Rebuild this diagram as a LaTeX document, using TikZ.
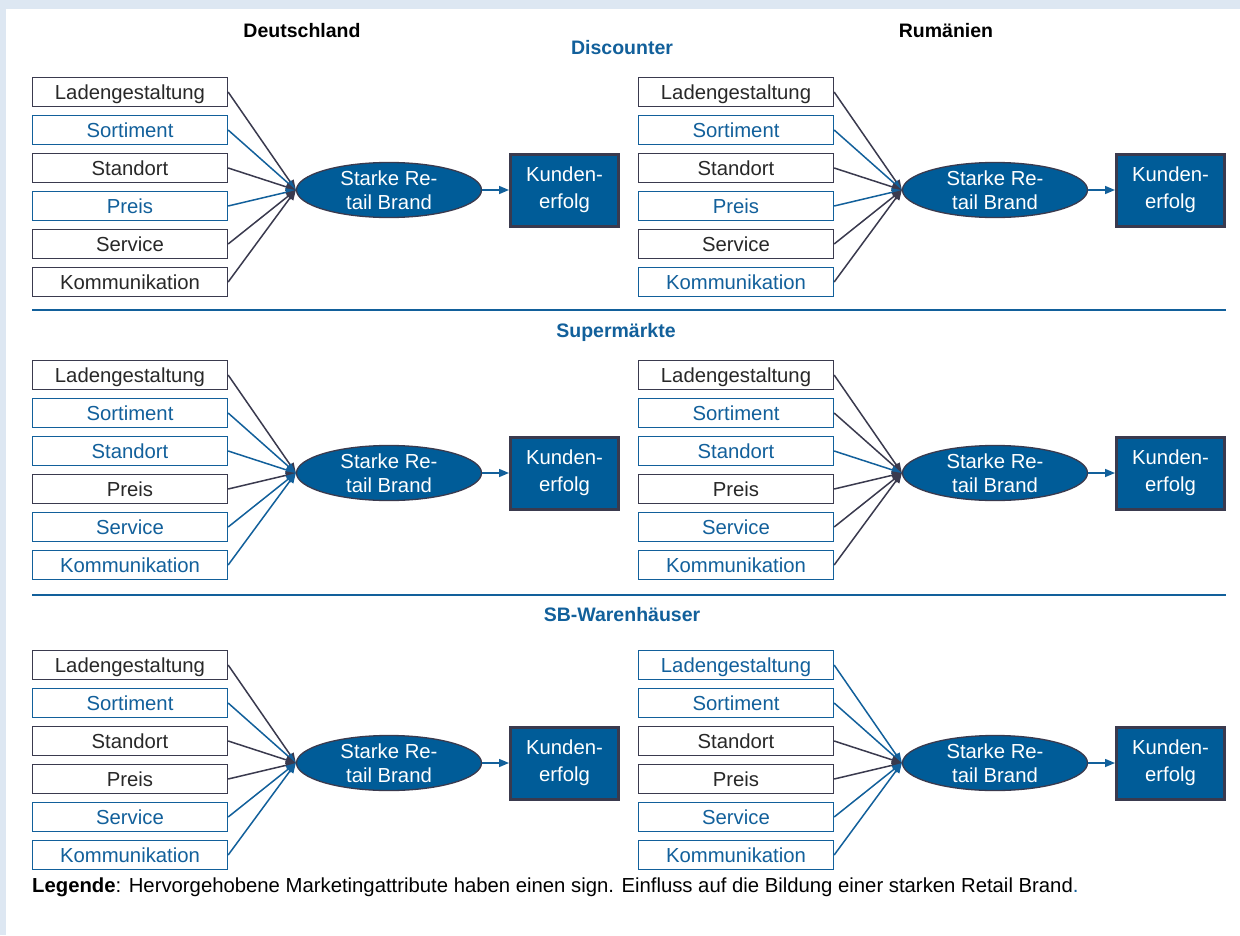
\documentclass[tikz,border=0pt]{standalone}
\usepackage{fontspec}
\setmainfont{Liberation Sans}
\usetikzlibrary{arrows.meta,shapes.geometric}
\definecolor{bl}{RGB}{18,96,155}
\definecolor{dk}{RGB}{58,58,78}
\definecolor{bg}{RGB}{221,231,242}
\definecolor{ef}{RGB}{0,92,152}
\definecolor{tx}{RGB}{40,40,40}
\newcommand\mypanel[4]{%
  \node[brand] (#1E) at (389+#2, #3+98) {Starke Re-\\tail Brand};
  \node[kunde] (#1K) at (564.5+#2, #3+98) {Kunden-\\erfolg};
  \draw[hl] (#1E) -- (#1K);
  \foreach \t/\bs/\ls [count=\i] in {#4}{
    \node[\bs] (#1\i) at (130+#2, #3+38*\i-38) {\t};
    \draw[\ls] (#1\i.east) -- (#1E.west);
  }%
}
\begin{document}
\begin{tikzpicture}[x=1pt,y=-1pt,
  attr/.style={draw, line width=1.3pt, minimum width=195pt, minimum height=29.5pt,
    inner sep=0pt, text height=17pt, text depth=2pt, fill=white, font=\fontsize{20.3}{24}\selectfont},
  hi/.style={attr, draw=bl, text=bl},
  lo/.style={attr, draw=dk, text=tx},
  brand/.style={ellipse, draw=dk, line width=1.3pt, fill=ef, text=white,
    minimum width=185pt, minimum height=55pt, inner sep=0pt, align=center,
    font=\fontsize{20.3}{24}\selectfont},
  kunde/.style={draw=dk, line width=3pt, fill=ef, text=white,
    minimum width=108pt, minimum height=72pt, inner sep=0pt, align=center,
    font=\fontsize{20.3}{27}\selectfont},
  hl/.style={draw=bl, line width=1.5pt, -{Triangle[length=10pt,width=8pt]}},
  ll/.style={draw=dk, line width=1.5pt, -{Triangle[length=10pt,width=8pt]}},
  head/.style={font=\bfseries\fontsize{19.5}{22}\selectfont},
  sep/.style={draw=bl, line width=1.5pt}
]
\useasboundingbox (0,0) rectangle (1240,935);
\fill[bg] (0,0) rectangle (1240,935);
\fill[white] (6,9) rectangle (1240,935);

\node[head, text=black] (hde) at (302,31) {Deutschland};
\node[head, text=black] (hro) at (946,31) {Rumänien};
\node[head, text=bl] (hdisc) at (622,48) {Discounter};
\node[head, text=bl] (hsup) at (616,332) {Supermärkte};
\node[head, text=bl] (hsb) at (622,615) {SB-Warenhäuser};

\coordinate (s1a) at (32,310); \coordinate (s1b) at (1226,310);
\coordinate (s2a) at (32,595); \coordinate (s2b) at (1226,595);
\draw[sep] (s1a) -- (s1b);
\draw[sep] (s2a) -- (s2b);

\mypanel{a}{0}{92}{Ladengestaltung/lo/ll, Sortiment/hi/hl, Standort/lo/ll, Preis/hi/hl, Service/lo/ll, Kommunikation/lo/ll}
\mypanel{b}{606}{92}{Ladengestaltung/lo/ll, Sortiment/hi/hl, Standort/lo/ll, Preis/hi/hl, Service/lo/ll, Kommunikation/hi/ll}
\mypanel{c}{0}{375}{Ladengestaltung/lo/ll, Sortiment/hi/hl, Standort/hi/hl, Preis/lo/ll, Service/hi/hl, Kommunikation/hi/hl}
\mypanel{d}{606}{375}{Ladengestaltung/lo/ll, Sortiment/hi/ll, Standort/hi/hl, Preis/lo/ll, Service/hi/ll, Kommunikation/hi/ll}
\mypanel{e}{0}{665}{Ladengestaltung/lo/ll, Sortiment/hi/hl, Standort/lo/ll, Preis/lo/ll, Service/hi/hl, Kommunikation/hi/hl}
\mypanel{f}{606}{665}{Ladengestaltung/hi/hl, Sortiment/hi/hl, Standort/lo/ll, Preis/lo/ll, Service/hi/hl, Kommunikation/hi/hl}

\node[anchor=base west, inner sep=0pt, text=black, font=\fontsize{20.3}{24}\selectfont] (leg) at (32,892)
  {\textbf{Legende}: Hervorgehobene Marketingattribute haben einen sign. Einfluss auf die Bildung einer starken Retail Brand\textcolor{bl}{.}};
\end{tikzpicture}
\end{document}
